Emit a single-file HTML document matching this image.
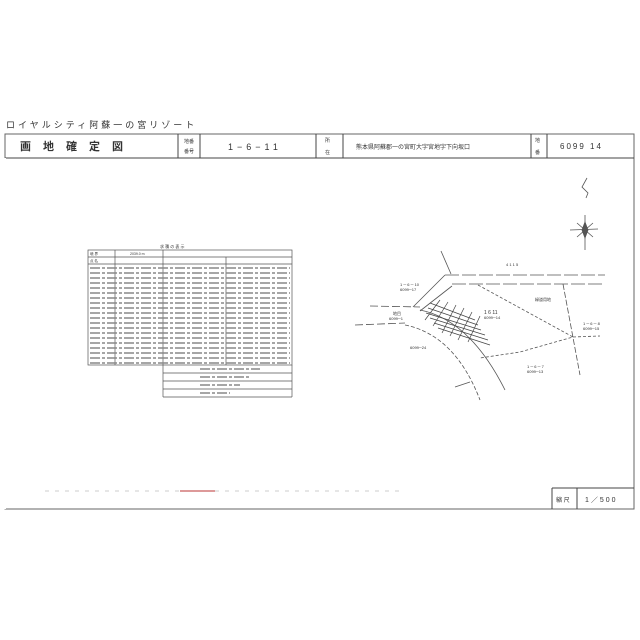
<!DOCTYPE html>
<html><head><meta charset="utf-8"><style>
html,body{margin:0;padding:0;background:#fff;}
svg{display:block}
text{font-family:"Liberation Sans","Noto Sans CJK JP",sans-serif;fill:#333}
</style></head><body>
<svg width="640" height="640" viewBox="0 0 640 640" xmlns="http://www.w3.org/2000/svg">
<rect width="640" height="640" fill="#fff"/>
<text x="6" y="128" font-size="9" letter-spacing="3">ロイヤルシティ阿蘇一の宮リゾート</text>
<!-- frame -->
<g stroke="#444" fill="none" stroke-width="1">
<path d="M5 134 H634 V509 H5 Z" stroke="#666"/>
<line x1="5" y1="158" x2="634" y2="158"/>
<line x1="178" y1="134" x2="178" y2="158"/>
<line x1="200" y1="134" x2="200" y2="158"/>
<line x1="316" y1="134" x2="316" y2="158"/>
<line x1="343" y1="134" x2="343" y2="158"/>
<line x1="531" y1="134" x2="531" y2="158"/>
<line x1="547" y1="134" x2="547" y2="158"/>
<line x1="552" y1="488" x2="552" y2="509"/>
<line x1="577" y1="488" x2="577" y2="509"/>
<line x1="552" y1="488" x2="634" y2="488"/>
</g>
<line x1="5" y1="158" x2="5" y2="509" stroke="#fff" stroke-width="2"/>
<text x="20" y="150" font-size="11" font-weight="bold" letter-spacing="12">画地確定図</text>
<text x="184" y="143" font-size="5">地番</text><text x="184" y="153" font-size="5">番号</text>
<text x="228" y="150" font-size="9" letter-spacing="4">1−6−11</text>
<text x="325" y="142" font-size="5">所</text><text x="325" y="154" font-size="5">在</text>
<text x="356" y="149" font-size="6">熊本県阿蘇郡一の宮町大字宮地字下向坂口</text>
<text x="535" y="142" font-size="5">地</text><text x="535" y="154" font-size="5">番</text>
<text x="560" y="149" font-size="8" letter-spacing="2">6099 14</text>
<text x="556" y="502" font-size="6">縮 尺</text>
<text x="585" y="502" font-size="7" letter-spacing="2">1／500</text>
<line x1="45" y1="491" x2="400" y2="491" stroke="#ccc" stroke-dasharray="4 6"/>
<line x1="180" y1="491" x2="215" y2="491" stroke="#d99" stroke-width="2"/>
<!-- table -->
<g stroke="#555" fill="none" stroke-width="0.7">
<text x="160" y="248" font-size="4" stroke="none">求 積 の 表 示</text>
<rect x="88" y="250" width="204" height="115"/>
<line x1="115" y1="250" x2="115" y2="365"/>
<line x1="163" y1="250" x2="163" y2="397"/>
<line x1="226" y1="257" x2="226" y2="365"/>
<line x1="163" y1="397" x2="292" y2="397"/>
<line x1="292" y1="365" x2="292" y2="397"/>
<line x1="163" y1="373" x2="292" y2="373"/>
<line x1="163" y1="381" x2="292" y2="381"/>
<line x1="163" y1="389" x2="292" y2="389"/>
<line x1="88" y1="257" x2="292" y2="257"/>
<line x1="88" y1="264" x2="292" y2="264"/>
</g>
<g fill="#777" font-size="3.5">
<text x="90" y="255">境 界</text><text x="90" y="262">点 名</text>
<text x="130" y="255">2039.0 m</text>
</g>
<g stroke="#888" stroke-width="1.6" stroke-dasharray="10 2 3 2">
<line x1="90" y1="268" x2="290" y2="268"/><line x1="90" y1="273" x2="290" y2="273"/>
<line x1="90" y1="278" x2="290" y2="278"/><line x1="90" y1="283" x2="290" y2="283"/>
<line x1="90" y1="288" x2="290" y2="288"/><line x1="90" y1="293" x2="290" y2="293"/>
<line x1="90" y1="298" x2="290" y2="298"/><line x1="90" y1="303" x2="290" y2="303"/>
<line x1="90" y1="308" x2="290" y2="308"/><line x1="90" y1="313" x2="290" y2="313"/>
<line x1="90" y1="318" x2="290" y2="318"/><line x1="90" y1="323" x2="290" y2="323"/>
<line x1="90" y1="328" x2="290" y2="328"/><line x1="90" y1="333" x2="290" y2="333"/>
<line x1="90" y1="338" x2="290" y2="338"/><line x1="90" y1="343" x2="290" y2="343"/>
<line x1="90" y1="348" x2="290" y2="348"/><line x1="90" y1="353" x2="290" y2="353"/>
<line x1="90" y1="358" x2="290" y2="358"/><line x1="90" y1="363" x2="290" y2="363"/>
<line x1="200" y1="369" x2="260" y2="369"/><line x1="200" y1="377" x2="250" y2="377"/>
<line x1="200" y1="385" x2="240" y2="385"/><line x1="200" y1="393" x2="230" y2="393"/>
</g>
<!-- map -->
<g stroke="#555" fill="none" stroke-width="0.8">
<line x1="441" y1="251" x2="451" y2="274"/>
<line x1="445" y1="275" x2="605" y2="275" stroke-dasharray="14 3"/>
<line x1="452" y1="284" x2="605" y2="284" stroke-dasharray="14 3"/>
<line x1="445" y1="275" x2="413" y2="307"/>
<line x1="452" y1="286" x2="420" y2="311"/>
<line x1="370" y1="306" x2="420" y2="307" stroke-dasharray="8 3"/>
<line x1="355" y1="325" x2="405" y2="323" stroke-dasharray="8 3"/>
<path d="M405 325 Q455 335 480 400" stroke-dasharray="4 2"/>
<path d="M420 310 Q470 320 505 390"/>
<path d="M478 285 L573 337 L520 352 L480 358" stroke-dasharray="3 2"/>
<line x1="563" y1="284" x2="580" y2="375" stroke-dasharray="6 2"/>
<line x1="573" y1="337" x2="600" y2="336" stroke-dasharray="3 2"/>
<line x1="470" y1="382" x2="455" y2="387"/>
</g>
<g stroke="#444" stroke-width="0.7">
<line x1="430" y1="303" x2="475" y2="320"/><line x1="428" y1="308" x2="478" y2="325"/>
<line x1="426" y1="313" x2="481" y2="330"/><line x1="430" y1="318" x2="485" y2="335"/>
<line x1="434" y1="323" x2="488" y2="340"/><line x1="438" y1="328" x2="490" y2="345"/>
<line x1="440" y1="300" x2="425" y2="320"/><line x1="448" y1="302" x2="433" y2="326"/>
<line x1="456" y1="305" x2="442" y2="333"/><line x1="464" y1="308" x2="450" y2="336"/>
<line x1="472" y1="312" x2="458" y2="340"/><line x1="480" y1="316" x2="468" y2="342"/>
</g>
<g font-size="4" fill="#666">
<text x="506" y="266">4 1 1 5</text>
<text x="400" y="286">1 ─ 6 ─ 10</text><text x="400" y="291">6099─17</text>
<text x="535" y="301">緑道用地</text>
<text x="484" y="314" font-size="5">1 6 11</text><text x="484" y="319">6099─14</text>
<text x="393" y="315">地目</text><text x="389" y="320">6099─1</text>
<text x="410" y="349">6099─24</text>
<text x="583" y="325">1 ─ 6 ─ 8</text><text x="583" y="330">6099─15</text>
<text x="527" y="368">1 ─ 6 ─ 7</text><text x="527" y="373">6099─13</text>
</g>
<!-- compass -->
<g stroke="#555" stroke-width="0.8" fill="none">
<path d="M587 178 L582 187 L588 193 L586 198"/>
<line x1="585" y1="215" x2="585" y2="250"/>
<line x1="570" y1="230" x2="598" y2="229"/>
<path d="M585 222 L588 230 L585 238 L582 230 Z" fill="#555"/>
<line x1="577" y1="223" x2="593" y2="237"/><line x1="593" y1="223" x2="577" y2="237"/>
</g>
</svg>
</body></html>
